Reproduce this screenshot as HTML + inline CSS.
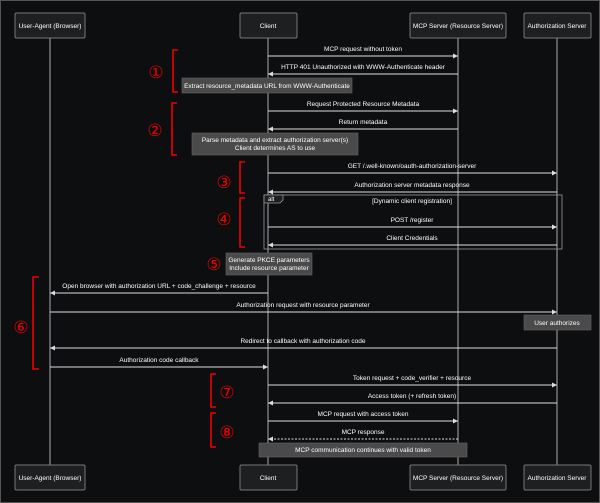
<!DOCTYPE html>
<html><head><meta charset="utf-8"><style>
html,body{margin:0;padding:0;background:#0d0e10;}
svg{display:block;font-family:"Liberation Sans",sans-serif;}
text{fill:#fff;font-size:6.5px;}
.n{fill:#e00;font-size:17px;}
</style></head><body>
<svg width="600" height="503" viewBox="0 0 600 503" xmlns="http://www.w3.org/2000/svg">
<defs>
<marker id="a" markerWidth="6" markerHeight="6" refX="5" refY="3" orient="auto" markerUnits="userSpaceOnUse"><path d="M0,0.5 L5,3 L0,5.5z" fill="#ddd"/></marker>
</defs>
<rect x="0.5" y="0.5" width="599" height="502" fill="#0d0e10" stroke="#555"/>
<g stroke="#aaa" stroke-width="1">
<line x1="50" y1="38" x2="50" y2="465"/>
<line x1="268" y1="38" x2="268" y2="465"/>
<line x1="458" y1="38" x2="458" y2="465"/>
<line x1="557" y1="38" x2="557" y2="465"/>
</g>
<g fill="#1e1f21" stroke="#777">
<rect x="15" y="13" width="70" height="25" rx="1.5"/>
<rect x="240" y="13" width="57" height="25" rx="1.5"/>
<rect x="410" y="13" width="96" height="25" rx="1.5"/>
<rect x="524" y="13" width="67" height="25" rx="1.5"/>
<rect x="15" y="465" width="70" height="25" rx="1.5"/>
<rect x="240" y="465" width="57" height="25" rx="1.5"/>
<rect x="410" y="465" width="96" height="25" rx="1.5"/>
<rect x="524" y="465" width="67" height="25" rx="1.5"/>
</g>
<g text-anchor="middle">
<text x="50" y="28">User-Agent (Browser)</text><text x="268" y="28">Client</text><text x="458" y="28">MCP Server (Resource Server)</text><text x="557" y="28">Authorization Server</text>
<text x="50" y="480">User-Agent (Browser)</text><text x="268" y="480">Client</text><text x="458" y="480">MCP Server (Resource Server)</text><text x="557" y="480">Authorization Server</text>
</g>
<!-- alt frame -->
<rect x="264" y="195" width="298" height="54" fill="none" stroke="#999" stroke-width="0.8"/>
<path d="M264,195 H283 V200 L280,203 H264z" fill="#1e1f21" stroke="#999" stroke-width="0.8"/>
<text x="268" y="201" style="font-size:6px">alt</text>
<!-- notes -->
<g fill="#4a4a4a" stroke="#666" stroke-width="0.6">
<rect x="182" y="78" width="170" height="15"/>
<rect x="192" y="133" width="166" height="22"/>
<rect x="226" y="253" width="86" height="22"/>
<rect x="524" y="315" width="67" height="15"/>
<rect x="259" y="443" width="208" height="14"/>
</g>
<g text-anchor="middle" style="fill:#ddd">
<text x="267" y="88">Extract resource_metadata URL from WWW-Authenticate</text>
<text x="275" y="142">Parse metadata and extract authorization server(s)</text>
<text x="275" y="150">Client determines AS to use</text>
<text x="269" y="262">Generate PKCE parameters</text>
<text x="269" y="270">Include resource parameter</text>
<text x="557" y="325">User authorizes</text>
<text x="363" y="452">MCP communication continues with valid token</text>
</g>
<!-- messages -->
<g stroke="#ddd" stroke-width="0.9" marker-end="url(#a)">
<line x1="268" y1="56" x2="458" y2="56"/>
<line x1="458" y1="74" x2="268" y2="74"/>
<line x1="268" y1="111" x2="458" y2="111"/>
<line x1="458" y1="129" x2="268" y2="129"/>
<line x1="268" y1="173" x2="557" y2="173"/>
<line x1="557" y1="192" x2="268" y2="192"/>
<line x1="268" y1="227" x2="557" y2="227"/>
<line x1="557" y1="245" x2="268" y2="245"/>
<line x1="268" y1="293" x2="50" y2="293"/>
<line x1="50" y1="312" x2="557" y2="312"/>
<line x1="557" y1="348" x2="50" y2="348"/>
<line x1="50" y1="367" x2="268" y2="367"/>
<line x1="268" y1="385" x2="557" y2="385"/>
<line x1="557" y1="403" x2="268" y2="403"/>
<line x1="268" y1="421" x2="458" y2="421"/>
<line x1="458" y1="439" x2="268" y2="439" stroke-dasharray="2,1.5"/>
</g>
<g text-anchor="middle">
<text x="363" y="51">MCP request without token</text>
<text x="363" y="69">HTTP 401 Unauthorized with WWW-Authenticate header</text>
<text x="363" y="106">Request Protected Resource Metadata</text>
<text x="363" y="124">Return metadata</text>
<text x="412" y="168">GET /.well-known/oauth-authorization-server</text>
<text x="412" y="187">Authorization server metadata response</text>
<text x="412" y="203">[Dynamic client registration]</text>
<text x="412" y="222">POST /register</text>
<text x="412" y="240">Client Credentials</text>
<text x="159" y="288">Open browser with authorization URL + code_challenge + resource</text>
<text x="303" y="307">Authorization request with resource parameter</text>
<text x="303" y="343">Redirect to callback with authorization code</text>
<text x="159" y="362">Authorization code callback</text>
<text x="412" y="380">Token request + code_verifier + resource</text>
<text x="412" y="398">Access token (+ refresh token)</text>
<text x="363" y="416">MCP request with access token</text>
<text x="363" y="434">MCP response</text>
</g>
<!-- brackets -->
<g fill="none" stroke="#e00" stroke-width="1.6">
<path d="M178,50 H173 V92 H178"/>
<path d="M177,103 H172 V155 H177"/>
<path d="M245,162 H240 V193 H245"/>
<path d="M245,198 H240 V247 H245"/>
<path d="M39,277 H33 V369 H39"/>
<path d="M216,374 H211 V407 H216"/>
<path d="M216,413 H211 V447 H216"/>
</g>
<g class="n" text-anchor="middle">
<text class="n" x="156" y="78">①</text>
<text class="n" x="155" y="136">②</text>
<text class="n" x="224" y="188">③</text>
<text class="n" x="224" y="225">④</text>
<text class="n" x="214" y="270">⑤</text>
<text class="n" x="21" y="333">⑥</text>
<text class="n" x="227" y="398">⑦</text>
<text class="n" x="227" y="438">⑧</text>
</g>
</svg>
</body></html>
